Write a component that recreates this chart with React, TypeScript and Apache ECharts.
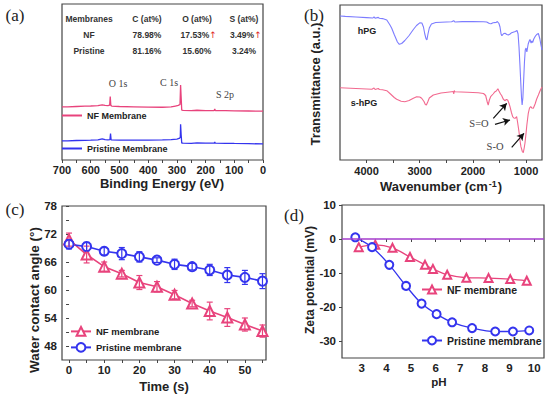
import React, { useEffect, useRef } from 'react';
import * as echarts from 'echarts';

const SANS = "'Liberation Sans', Arial, Helvetica, sans-serif";
const SERIF = "'Liberation Serif', 'Times New Roman', Times, serif";

const PINK = '#e8437c';
const BLUE = '#3434ee';
const LIGHT_BLUE = '#7c7cff';
const LIGHT_PINK = '#f2698f';
const PURPLE = '#a43ccc';

// ---------- (a) XPS ----------
const xpsTickLabels = [0, 100, 200, 300, 400, 500, 600, 700];
const xpsTicks = [0, 50, 100, 150, 200, 250, 300, 350, 400, 450, 500, 550, 600, 650, 700];
const xpsNF: [number, number][] = [
  [700, 34.0], [680, 34.1], [650, 34.3], [620, 34.5], [600, 34.6], [575, 34.8], [560, 35.4], [550, 35.0],
  [540, 34.8], [534, 35.2], [532, 40.6], [530, 35.0], [527, 34.6], [500, 34.3], [450, 34.1], [400, 33.9],
  [350, 33.8], [320, 34.0], [305, 34.6], [295, 35.0], [289, 35.6], [287, 48.1], [285, 40.0], [283, 32.0],
  [278, 31.8], [250, 31.6], [230, 31.9], [200, 31.6], [170, 31.7], [168, 32.8], [166, 31.7], [130, 31.6],
  [100, 31.5], [50, 31.4], [0, 31.3],
];
const xpsPristine: [number, number][] = [
  [700, 12.2], [680, 12.3], [650, 12.5], [620, 12.6], [600, 12.7], [575, 12.9], [560, 13.5], [550, 13.0],
  [540, 12.9], [533, 13.1], [531, 16.9], [529, 12.9], [500, 12.8], [450, 12.7], [400, 12.8], [350, 12.9],
  [320, 13.1], [300, 13.4], [292, 13.8], [288, 14.5], [287, 22.9], [285, 16.0], [283, 10.9], [278, 10.8],
  [250, 10.7], [230, 11.0], [200, 10.8], [170, 10.8], [168, 11.6], [166, 10.8], [130, 10.7], [100, 10.6],
  [50, 10.5], [0, 10.3],
];
const tableHeader = ['Membranes', 'C (at%)', 'O (at%)', 'S (at%)'];
const membranes = ['NF', 'Pristine'];
const carbonAt = ['78.98%', '81.16%'];
const oxygenAt = ['17.53%', '15.60%'];
const sulfurAt = ['3.49%', '3.24%'];
const oxygenUp = [true, false];
const sulfurUp = [true, false];

// ---------- (b) FTIR ----------
const ftirTickLabels = [1000, 2000, 3000, 4000];
const ftirTicks = [1000, 1500, 2000, 2500, 3000, 3500, 4000];
const hpg: [number, number][] = [
  [4500, 144], [4400, 143.6], [4200, 143], [4000, 142.4], [3880, 142], [3860, 143.2], [3840, 141.8],
  [3780, 142.6], [3760, 141.8], [3700, 141.4], [3620, 140], [3560, 135], [3527, 131.7], [3480, 125.5],
  [3420, 118], [3384, 115.7], [3340, 116.5], [3280, 119.5], [3200, 124.5], [3120, 130.5], [3060, 134.5],
  [3000, 137.2], [2960, 137], [2930, 133], [2905, 126], [2880, 121], [2865, 120], [2845, 126], [2820, 132],
  [2780, 136], [2700, 137.5], [2600, 137.8], [2400, 138.2], [2360, 139.3], [2340, 138], [2200, 138.4],
  [2000, 138.5], [1800, 138.3], [1740, 138], [1690, 136.5], [1660, 136.2], [1620, 137.2], [1560, 137.6],
  [1540, 138.5], [1510, 136.5], [1490, 133], [1470, 126], [1455, 124.3], [1420, 126.5], [1396, 126.7],
  [1360, 125.5], [1334, 125], [1300, 126], [1271, 127.3], [1230, 128], [1200, 128.5], [1170, 129.5],
  [1150, 126], [1133, 113.3], [1115, 95], [1100, 78], [1085, 62], [1074, 55], [1060, 62], [1045, 80],
  [1030, 98], [1015, 110], [1000, 112], [985, 108], [960, 116], [940, 119], [926, 120.5], [905, 117],
  [890, 119], [876, 117.5], [855, 121], [831, 123.3], [800, 125.5], [768, 126.5], [740, 121], [720, 115],
  [700, 110],
];
const shpg: [number, number][] = [
  [4500, 72.3], [4300, 71.8], [4100, 71.3], [3900, 70.8], [3860, 72], [3840, 70.5], [3780, 71.6],
  [3760, 70.5], [3700, 70.3], [3620, 69.3], [3550, 66], [3480, 62.5], [3434, 60.7], [3350, 58.8],
  [3280, 58.3], [3200, 59.5], [3120, 61.8], [3058, 63.3], [3000, 63], [2964, 61.7], [2920, 58.5],
  [2895, 55.5], [2875, 55], [2850, 58], [2820, 62], [2745, 65], [2600, 67], [2400, 68.3], [2370, 68.5],
  [2360, 66], [2350, 69.5], [2340, 68.3], [2100, 67.8], [1900, 67.3], [1800, 66.5], [1760, 64.5],
  [1730, 58], [1712, 55], [1690, 60], [1666, 63.3], [1620, 66], [1584, 68.3], [1560, 69], [1530, 71.3],
  [1515, 69.5], [1480, 66], [1459, 64.5], [1430, 61], [1400, 59.3], [1370, 60.5], [1346, 60], [1320, 56.5],
  [1302, 53.3], [1275, 47.5], [1252, 43.3], [1230, 42], [1208, 41.7], [1190, 42.5], [1177, 43.3],
  [1160, 38], [1133, 28.3], [1110, 18], [1096, 13.3], [1070, 8.5], [1052, 7.3], [1035, 12], [1020, 17],
  [1007, 23.3], [985, 35], [958, 46.7], [935, 52], [913, 53.3], [890, 52], [863, 51.7], [830, 56],
  [800, 61], [768, 65], [730, 70], [700, 73],
];
// arrows (start -> end) in data units
const ftirArrows: [number, number, number, number][] = [
  [1616, 41.7, 1364, 56.7],
  [1584, 35.7, 1302, 40.0],
  [1270, 12.7, 1039, 26.7],
];

// ---------- (c) contact angle ----------
const timeTickLabels = [0, 10, 20, 30, 40, 50];
const timeTicks = [0, 5, 10, 15, 20, 25, 30, 35, 40, 45, 50, 55];
const angleTickLabels = [48, 54, 60, 66, 72, 78];
const angleTicks = [48, 51, 54, 57, 60, 63, 66, 69, 72, 75, 78];
const time = [0, 5, 10, 15, 20, 25, 30, 35, 40, 45, 50, 55];
const nfAngle = [70.8, 67.6, 65.0, 63.5, 61.6, 60.7, 59.0, 57.1, 55.5, 54.1, 52.6, 51.2];
const nfErr = [1.4, 1.8, 1.0, 0.7, 1.5, 1.1, 0.9, 0.7, 1.9, 1.9, 1.4, 1.3];
const prAngle = [69.8, 69.3, 68.3, 67.8, 67.1, 66.4, 65.5, 65.0, 64.3, 63.2, 62.7, 61.9];
const prErr = [1.0, 0.9, 0.8, 1.3, 1.1, 0.5, 1.1, 0.7, 1.2, 1.6, 1.5, 1.6];

// ---------- (d) zeta potential ----------
const phTickLabels = [3, 4, 5, 6, 7, 8, 9, 10];
const zetaTickLabels = [-30, -20, -10, 0, 10];
const nfPH = [2.88, 3.55, 4.25, 4.96, 5.57, 5.89, 6.47, 7.25, 8.15, 9.03, 9.7];
const nfZeta = [-2.4, -1.7, -2.6, -5.3, -7.6, -8.8, -10.5, -11.4, -11.5, -11.8, -12.3];
const prPH = [2.74, 3.42, 4.12, 4.8, 5.43, 6.04, 6.67, 7.48, 8.42, 9.14, 9.8];
const prZeta = [0.5, -2.4, -7.6, -13.8, -19.0, -22.1, -24.5, -26.2, -27.2, -27.2, -26.9];

function axis(gridIndex: number, min: number, max: number, labels: number[], ticks: number[], fontSize: number, margin: number, extra: any = {}) {
  return {
    type: 'value',
    gridIndex,
    min,
    max,
    axisLine: { show: false },
    splitLine: { show: false },
    axisTick: {
      show: ticks.length > 0,
      length: 3,
      customValues: ticks,
      lineStyle: { color: '#444', width: 1 },
    },
    axisLabel: {
      show: labels.length > 0,
      customValues: labels,
      formatter: (v: number) => String(v),
      fontSize,
      fontWeight: 'bold',
      color: '#222',
      fontFamily: SANS,
      margin,
    },
    ...extra,
  };
}

function txt(text: string, x: number, y: number, size: number, opts: any = {}) {
  return {
    type: 'text',
    x,
    y,
    rotation: opts.rotation || 0,
    silent: true,
    style: {
      text,
      fill: opts.fill || '#222',
      fontSize: size,
      fontWeight: opts.weight || 'bold',
      fontFamily: opts.family || SANS,
      align: 'center',
      verticalAlign: 'middle',
      rich: opts.rich,
    },
  };
}

function errorSeries(name: string, color: string, values: number[], errs: number[]) {
  return {
    type: 'custom',
    name,
    xAxisIndex: 2,
    yAxisIndex: 2,
    z: 5,
    silent: true,
    data: time.map((t, i) => [t, values[i] - errs[i], values[i] + errs[i]]),
    encode: { x: 0, y: [1, 2] },
    renderItem: (params: any, api: any) => {
      const x = api.value(0);
      const p1 = api.coord([x, api.value(1)]);
      const p2 = api.coord([x, api.value(2)]);
      const hw = 3;
      const style = { stroke: color, lineWidth: 1.2, fill: 'none' };
      return {
        type: 'group',
        children: [
          { type: 'line', shape: { x1: p1[0], y1: p1[1], x2: p2[0], y2: p2[1] }, style },
          { type: 'line', shape: { x1: p1[0] - hw, y1: p1[1], x2: p1[0] + hw, y2: p1[1] }, style },
          { type: 'line', shape: { x1: p2[0] - hw, y1: p2[1], x2: p2[0] + hw, y2: p2[1] }, style },
        ],
      };
    },
  };
}

function buildOption() {
  const gridBase = { show: true, borderColor: '#444', borderWidth: 1.2, backgroundColor: 'transparent', containLabel: false };
  const graphic: any[] = [];
  // panel labels
  graphic.push(txt('(a)', 15, 15, 17, { weight: 'normal', family: SERIF }));
  graphic.push(txt('(b)', 314, 15, 17, { weight: 'normal', family: SERIF }));
  graphic.push(txt('(c)', 15, 209, 17, { weight: 'normal', family: SERIF }));
  graphic.push(txt('(d)', 294, 215, 17, { weight: 'normal', family: SERIF }));
  // axis titles
  graphic.push(txt('Binding Energy (eV)', 162, 183, 13));
  graphic.push(txt('{a|Wavenumber (cm}{s|-1}{a|)}', 441, 186, 13, {
    rich: {
      a: { fontSize: 13, fontWeight: 'bold', fontFamily: SANS, fill: '#222' },
      s: { fontSize: 9, fontWeight: 'bold', fontFamily: SANS, fill: '#222', verticalAlign: 'top', padding: [0, 1, 0, 1] },
    },
  }));
  graphic.push(txt('Transmittance (a.u.)', 315, 84, 13, { rotation: Math.PI / 2 }));
  graphic.push(txt('Time (s)', 164, 386, 13));
  graphic.push(txt('Water contact angle (°)', 34, 300, 13.5, { rotation: Math.PI / 2 }));
  graphic.push(txt('pH', 439, 382, 11.5));
  graphic.push(txt('Zeta potential (mV)', 310, 280, 12, { rotation: Math.PI / 2 }));
  // table in (a)
  const colX = [89, 147, 197, 244];
  const rowY = [19, 35, 51];
  tableHeader.forEach((h, i) => graphic.push(txt(h, colX[i], rowY[0], 8.5, { fill: '#333' })));
  membranes.forEach((m, r) => {
    const y = rowY[r + 1];
    graphic.push(txt(m, colX[0], y, 8.5, { fill: '#333' }));
    graphic.push(txt(carbonAt[r], colX[1], y, 8.5, { fill: '#333' }));
    graphic.push(txt(oxygenAt[r], oxygenUp[r] ? colX[2] - 2 : colX[2], y, 8.5, { fill: '#333' }));
    graphic.push(txt(sulfurAt[r], sulfurUp[r] ? colX[3] - 2 : colX[3], y, 8.5, { fill: '#333' }));
    if (oxygenUp[r]) graphic.push(txt('↑', 213, y, 9, { fill: '#e02828', weight: 'normal', family: 'DejaVu Sans' }));
    if (sulfurUp[r]) graphic.push(txt('↑', 258, y, 9, { fill: '#e02828', weight: 'normal', family: 'DejaVu Sans' }));
  });
  // XPS peak labels
  graphic.push(txt('O 1s', 118, 83, 10, { weight: 'normal', family: SERIF, fill: '#444' }));
  graphic.push(txt('C 1s', 169, 82, 10, { weight: 'normal', family: SERIF, fill: '#444' }));
  graphic.push(txt('S 2p', 225, 94, 10, { weight: 'normal', family: SERIF, fill: '#444' }));
  // FTIR labels
  graphic.push(txt('hPG', 367, 31, 9, { fill: '#222' }));
  graphic.push(txt('s-hPG', 364, 103, 9, { fill: '#222' }));
  graphic.push(txt('S=O', 479, 123, 10.5, { weight: 'normal', family: SERIF, fill: '#444' }));
  graphic.push(txt('S-O', 495, 146, 10.5, { weight: 'normal', family: SERIF, fill: '#444' }));

  const legendText = (size: number) => ({ fontSize: size, fontWeight: 'bold', color: '#222', fontFamily: SANS });

  return {
    animation: false,
    backgroundColor: '#fff',
    textStyle: { fontFamily: SANS },
    grid: [
      { ...gridBase, left: 62, top: 4, width: 201, height: 156 },
      { ...gridBase, left: 340, top: 5, width: 202, height: 155 },
      { ...gridBase, left: 62, top: 206, width: 204, height: 154 },
      { ...gridBase, left: 342, top: 205, width: 202, height: 153 },
    ],
    xAxis: [
      axis(0, 0, 700, xpsTickLabels, xpsTicks, 11, 4, { inverse: true }),
      axis(1, 700, 4500, ftirTickLabels, ftirTicks, 11, 5, { inverse: true }),
      axis(2, -2, 56, timeTickLabels, timeTicks, 11.5, 4),
      axis(3, 2.2, 10.4, phTickLabels, phTickLabels, 11.5, 4),
    ],
    yAxis: [
      axis(0, 0, 100, [], [], 11, 4),
      axis(1, 0, 155, [], [], 11, 4),
      axis(2, 45, 78, angleTickLabels, angleTicks, 11.5, 5),
      axis(3, -35, 10, zetaTickLabels, zetaTickLabels, 11.5, 6),
    ],
    legend: [
      { left: 62, top: 111, padding: 0, selectedMode: false, itemWidth: 20, itemHeight: 2, data: [{ name: 'NF Membrane', icon: 'rect' }], textStyle: legendText(9) },
      { left: 62, top: 144, padding: 0, selectedMode: false, itemWidth: 20, itemHeight: 2, data: [{ name: 'Pristine Membrane', icon: 'rect' }], textStyle: legendText(9) },
      { left: 70, top: 326, padding: 0, selectedMode: false, itemWidth: 20, itemHeight: 11, data: ['NF membrane'], textStyle: legendText(9.5) },
      { left: 70, top: 342, padding: 0, selectedMode: false, itemWidth: 20, itemHeight: 11, data: ['Pristine membrane'], textStyle: legendText(9.5) },
      { left: 421, top: 284, padding: 0, selectedMode: false, itemWidth: 20, itemHeight: 10, data: ['NF membrane'], textStyle: legendText(10.5) },
      { left: 421, top: 335, padding: 0, selectedMode: false, itemWidth: 20, itemHeight: 10, data: ['Pristine membrane'], textStyle: legendText(10.5) },
    ],
    series: [
      { type: 'line', name: 'NF Membrane', xAxisIndex: 0, yAxisIndex: 0, data: xpsNF, symbol: 'none', color: PINK, lineStyle: { color: PINK, width: 1.3 } },
      { type: 'line', name: 'Pristine Membrane', xAxisIndex: 0, yAxisIndex: 0, data: xpsPristine, symbol: 'none', color: BLUE, lineStyle: { color: BLUE, width: 1.3 } },
      { type: 'line', name: 'hPG', xAxisIndex: 1, yAxisIndex: 1, data: hpg, symbol: 'none', color: LIGHT_BLUE, lineStyle: { color: LIGHT_BLUE, width: 1.1 } },
      {
        type: 'line', name: 's-hPG', xAxisIndex: 1, yAxisIndex: 1, data: shpg, symbol: 'none', color: LIGHT_PINK,
        lineStyle: { color: LIGHT_PINK, width: 1.1 },
        markLine: {
          silent: true,
          symbol: ['none', 'arrow'],
          symbolSize: [6, 7],
          label: { show: false },
          lineStyle: { color: '#111', width: 1.2, type: 'solid' },
          data: ftirArrows.map((a) => [{ coord: [a[0], a[1]] }, { coord: [a[2], a[3]] }]),
        },
      },
      {
        type: 'line', name: 'NF membrane', xAxisIndex: 2, yAxisIndex: 2, data: time.map((t, i) => [t, nfAngle[i]]),
        symbol: 'emptyTriangle', symbolSize: 10, color: PINK, clip: false,
        lineStyle: { color: PINK, width: 1.6 }, itemStyle: { color: PINK, borderWidth: 1.3 },
      },
      {
        type: 'line', name: 'Pristine membrane', xAxisIndex: 2, yAxisIndex: 2, data: time.map((t, i) => [t, prAngle[i]]),
        symbol: 'emptyCircle', symbolSize: 9, color: BLUE, clip: false,
        lineStyle: { color: BLUE, width: 1.6 }, itemStyle: { color: BLUE, borderWidth: 1.3 },
      },
      errorSeries('NF error', PINK, nfAngle, nfErr),
      errorSeries('Pristine error', BLUE, prAngle, prErr),
      {
        type: 'line', name: 'NF membrane', xAxisIndex: 3, yAxisIndex: 3, data: nfPH.map((p, i) => [p, nfZeta[i]]),
        symbol: 'emptyTriangle', symbolSize: 8, smooth: 0.35, color: PINK,
        lineStyle: { color: PINK, width: 1.3 }, itemStyle: { color: PINK, borderWidth: 1 },
      },
      {
        type: 'line', name: 'Pristine membrane', xAxisIndex: 3, yAxisIndex: 3, data: prPH.map((p, i) => [p, prZeta[i]]),
        symbol: 'emptyCircle', symbolSize: 8, smooth: 0.35, color: BLUE,
        lineStyle: { color: BLUE, width: 1.3 }, itemStyle: { color: BLUE, borderWidth: 1 },
        markLine: {
          silent: true,
          symbol: ['none', 'none'],
          label: { show: false },
          lineStyle: { color: PURPLE, width: 1.5, type: 'solid' },
          data: [{ yAxis: 0 }],
        },
      },
    ],
    graphic,
  };
}

export default function App() {
  const ref = useRef<HTMLDivElement>(null);
  useEffect(() => {
    if (!ref.current) return;
    const chart = echarts.init(ref.current, null, { renderer: 'svg' });
    chart.setOption(buildOption() as any);
    return () => chart.dispose();
  }, []);
  return (
    <div
      ref={ref}
      style={{ position: 'absolute', left: 0, top: 0, width: 554, height: 397, background: '#fff' }}
    />
  );
}
